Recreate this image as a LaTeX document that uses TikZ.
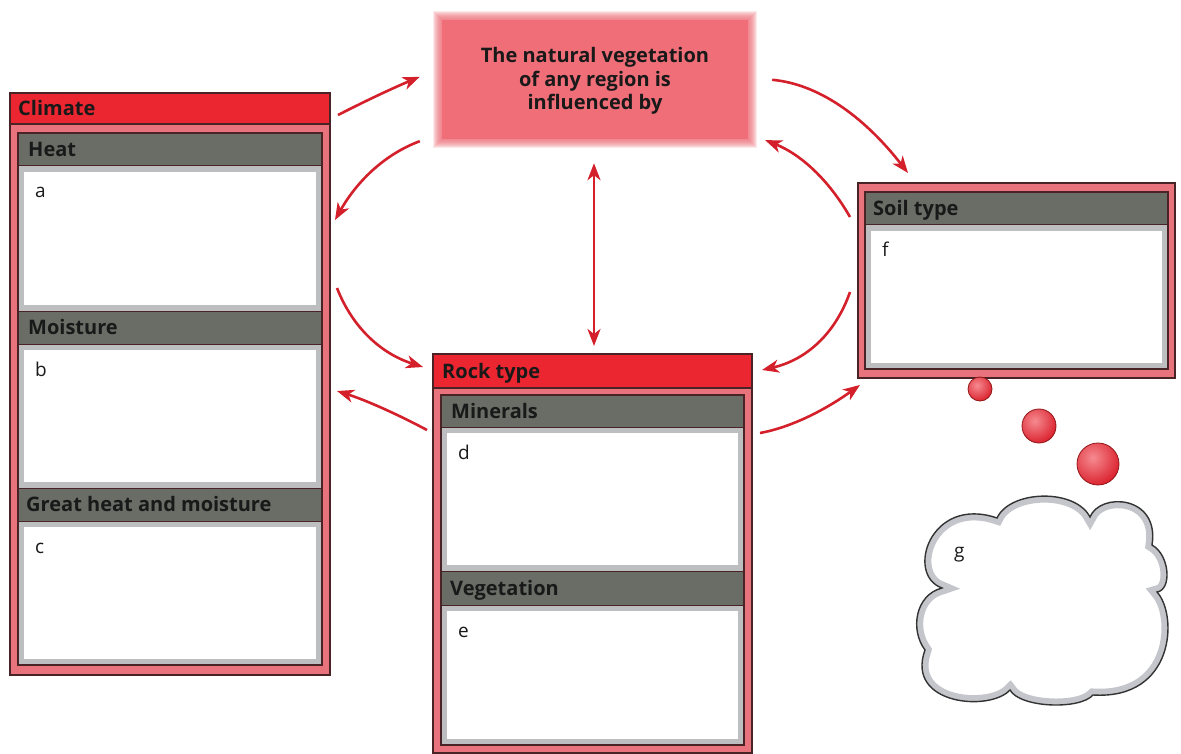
\documentclass[tikz,border=0pt]{standalone}
\usepackage{fontspec}
\setmainfont{Open Sans}
\usetikzlibrary{arrows.meta,fit,calc}
\definecolor{redhead}{HTML}{EC2630}
\definecolor{panelpink}{HTML}{E8737C}
\definecolor{edge}{HTML}{4A2326}
\definecolor{headgray}{HTML}{6A6D66}
\definecolor{bandgray}{HTML}{BCBEC0}
\definecolor{arrowred}{HTML}{D4202B}
\definecolor{topfill}{HTML}{EF6E78}
\definecolor{cloudband}{HTML}{C4C6CC}
\definecolor{bubblered}{HTML}{D91E2A}
\definecolor{bubblelight}{HTML}{F68A90}
\tikzset{
  panel/.style={fill=panelpink, draw=edge, line width=1.3pt, inner sep=0pt, outer sep=0pt},
  titlebar/.style={fill=redhead, draw=edge, line width=1.2pt, inner sep=0pt, outer sep=0pt},
  innerframe/.style={draw=edge, line width=1.2pt, inner sep=0pt, outer sep=0pt},
  subhead/.style={fill=headgray, draw=edge, line width=1pt, inner sep=0pt, outer sep=0pt},
  answer/.style={fill=white, draw=bandgray, line width=6pt, inner sep=0pt, outer sep=0pt},
  headtext/.style={font=\bfseries\fontsize{20}{22}\selectfont, text=black!90, anchor=base west, inner sep=0pt},
  lettertext/.style={font=\fontsize{19}{22}\selectfont, text=black!90, anchor=base west, inner sep=0pt},
  conn/.style={draw=arrowred, line width=2.6pt, -{Stealth[length=17pt,width=13pt,inset=5pt]}},
  bothconn/.style={draw=arrowred, line width=2.6pt, {Stealth[length=17pt,width=13pt,inset=5pt]}-{Stealth[length=17pt,width=13pt,inset=5pt]}},
  bubbleedge/.style={draw=edge!60!red, line width=0.8pt},
}
% outline of the thought cloud
\def\thoughtcloud{(942,588) .. controls (905,575) and (930,495) .. (997,518)
  .. controls (1010,490) and (1075,488) .. (1090,517)
  .. controls (1100,492) and (1160,495) .. (1152,545)
  .. controls (1170,555) and (1172,590) .. (1157,592)
  .. controls (1178,615) and (1175,700) .. (1093,695)
  .. controls (1080,710) and (1020,708) .. (1010,690)
  .. controls (990,712) and (905,705) .. (925,650)
  .. controls (910,630) and (915,595) .. (942,588) -- cycle}
% a shiny bubble: centre x, centre y, radius
\def\shinybubble#1#2#3{%
  \begin{scope}
    \clip (#1,#2) circle (#3);
    \shade[inner color=bubblelight, outer color=bubblered] ({#1-0.25*#3},{#2-0.3*#3}) circle ({1.4*#3});
  \end{scope}
  \draw[bubbleedge] (#1,#2) circle (#3);}
% arrow bent like a parabola through a single guide point
\def\bentarrow#1#2#3{%
  \draw[conn] (#1) .. controls ($(#1)!0.667!(#3)$) and ($(#2)!0.667!(#3)$) .. (#2);}
\begin{document}
\begin{tikzpicture}[x=1pt,y=-1pt]
\useasboundingbox (0,0) rectangle (1181,754);
\fill[white] (0,0) rectangle (1181,754);

% central statement with soft edges
\foreach \i in {9,8,...,1}
  \fill[topfill, opacity=0.16] (442-\i,20-\i) rectangle (748+\i,139+\i);
\fill[topfill] (442,20) rectangle (748,139);
\node[fit={(433,12) (757,147)}, inner sep=0pt] (veg) {};
\node[font=\bfseries\fontsize{20}{23.5}\selectfont, align=center, text=black!90] at (595,81)
  {The natural vegetation\\of any region is\\influenced by};

% Climate panel
\node[panel, fit={(10,93) (330,675)}] (clim) {};
\node[answer, fit={(21,169) (319,308)}] (abox) {};
\node[answer, fit={(21,347) (319,485)}] (bbox) {};
\node[answer, fit={(21,524) (319,662)}] (cbox) {};
\node[subhead, fit={(18,133) (322,166)}] (heat) {};
\node[subhead, fit={(18,311) (322,344)}] (moist) {};
\node[subhead, fit={(18,488) (322,521)}] (great) {};
\node[innerframe, fit={(18,133) (322,665)}] (climin) {};
\node[titlebar, fit={(10,93) (330,124)}] (climhead) {};
\node[headtext] at ([shift={(8,7)}]climhead.west) {Climate};
\node[headtext] at ([shift={(10,7)}]heat.west) {Heat};
\node[headtext] at ([shift={(10,7)}]moist.west) {Moisture};
\node[headtext] at ([shift={(8,7)}]great.west) {Great heat and moisture};
\node[lettertext] at ([shift={(14,29)}]abox.north west) {a};
\node[lettertext] at ([shift={(14,29)}]bbox.north west) {b};
\node[lettertext] at ([shift={(14,29)}]cbox.north west) {c};

% Rock type panel
\node[panel, fit={(433,354) (752,753)}] (rock) {};
\node[answer, fit={(444,430) (741,568)}] (dbox) {};
\node[answer, fit={(444,608) (741,742)}] (ebox) {};
\node[subhead, fit={(441,395) (744,427)}] (miner) {};
\node[subhead, fit={(441,571) (744,605)}] (vegt) {};
\node[innerframe, fit={(441,395) (744,745)}] (rockin) {};
\node[titlebar, fit={(433,354) (752,388)}] (rockhead) {};
\node[headtext] at ([shift={(9,7)}]rockhead.west) {Rock type};
\node[headtext] at ([shift={(10,7)}]miner.west) {Minerals};
\node[headtext] at ([shift={(9,7)}]vegt.west) {Vegetation};
\node[lettertext] at ([shift={(14,29)}]dbox.north west) {d};
\node[lettertext] at ([shift={(14,29)}]ebox.north west) {e};

% Soil type panel
\node[panel, fit={(858,183) (1175,378)}] (soil) {};
\node[answer, fit={(868,228) (1165,366)}] (fbox) {};
\node[subhead, fit={(865,192) (1168,225)}] (soilh) {};
\node[innerframe, fit={(865,192) (1168,369)}] (soilin) {};
\node[headtext] at ([shift={(8,7)}]soilh.west) {Soil type};
\node[lettertext] at ([shift={(14,29)}]fbox.north west) {f};

% thought bubbles and cloud
\shinybubble{980}{389}{12}
\shinybubble{1039}{426}{17}
\shinybubble{1098}{464}{21}
\begin{scope}
  \clip \thoughtcloud;
  \fill[white] \thoughtcloud;
  \draw[cloudband, line width=13pt] \thoughtcloud;
\end{scope}
\draw[black!80, line width=1.4pt] \thoughtcloud;
\node[lettertext] (gtxt) at (954,557) {g};

% connectors
\coordinate (a1s) at ($(clim.north east)+(8,22)$);
\coordinate (a1e) at ($(veg.north west)+(-13,65)$);
\coordinate (a2s) at ($(veg.south west)+(-13,-6)$);
\coordinate (a2e) at ($(clim.north east)+(5,127)$);
\coordinate (a3s) at ($(clim.north east)+(7,195)$);
\coordinate (a3e) at ($(rock.north west)+(-10,13)$);
\coordinate (a4s) at ($(rock.north west)+(-6,76)$);
\coordinate (a4e) at ($(clim.north east)+(7,298)$);
\coordinate (a5s) at ($(veg.north east)+(15,68)$);
\coordinate (a5e) at ($(soil.north west)+(50,-10)$);
\coordinate (a6s) at ($(soil.north west)+(-8,34)$);
\coordinate (a6e) at ($(veg.south east)+(8,-7)$);
\coordinate (a7s) at ($(soil.north west)+(-8,109)$);
\coordinate (a7e) at ($(rock.north east)+(10,16)$);
\coordinate (a8s) at ($(rock.north east)+(8,79)$);
\coordinate (a8e) at ($(soil.south west)+(2,7)$);
\coordinate (a9s) at ($(veg.south)+(-1,16)$);
\coordinate (a9e) at ($(rock.north)+(1.5,-8)$);

\bentarrow{a1s}{a1e}{381,93}
\bentarrow{a2s}{a2e}{369,160}
\bentarrow{a3s}{a3e}{360,347}
\bentarrow{a4s}{a4e}{378,404}
\bentarrow{a5s}{a5e}{840,86}
\bentarrow{a6s}{a6e}{818,161}
\bentarrow{a7s}{a7e}{828,355}
\bentarrow{a8s}{a8e}{804,425}
\draw[bothconn] (a9s) -- (a9e);
\end{tikzpicture}
\end{document}
